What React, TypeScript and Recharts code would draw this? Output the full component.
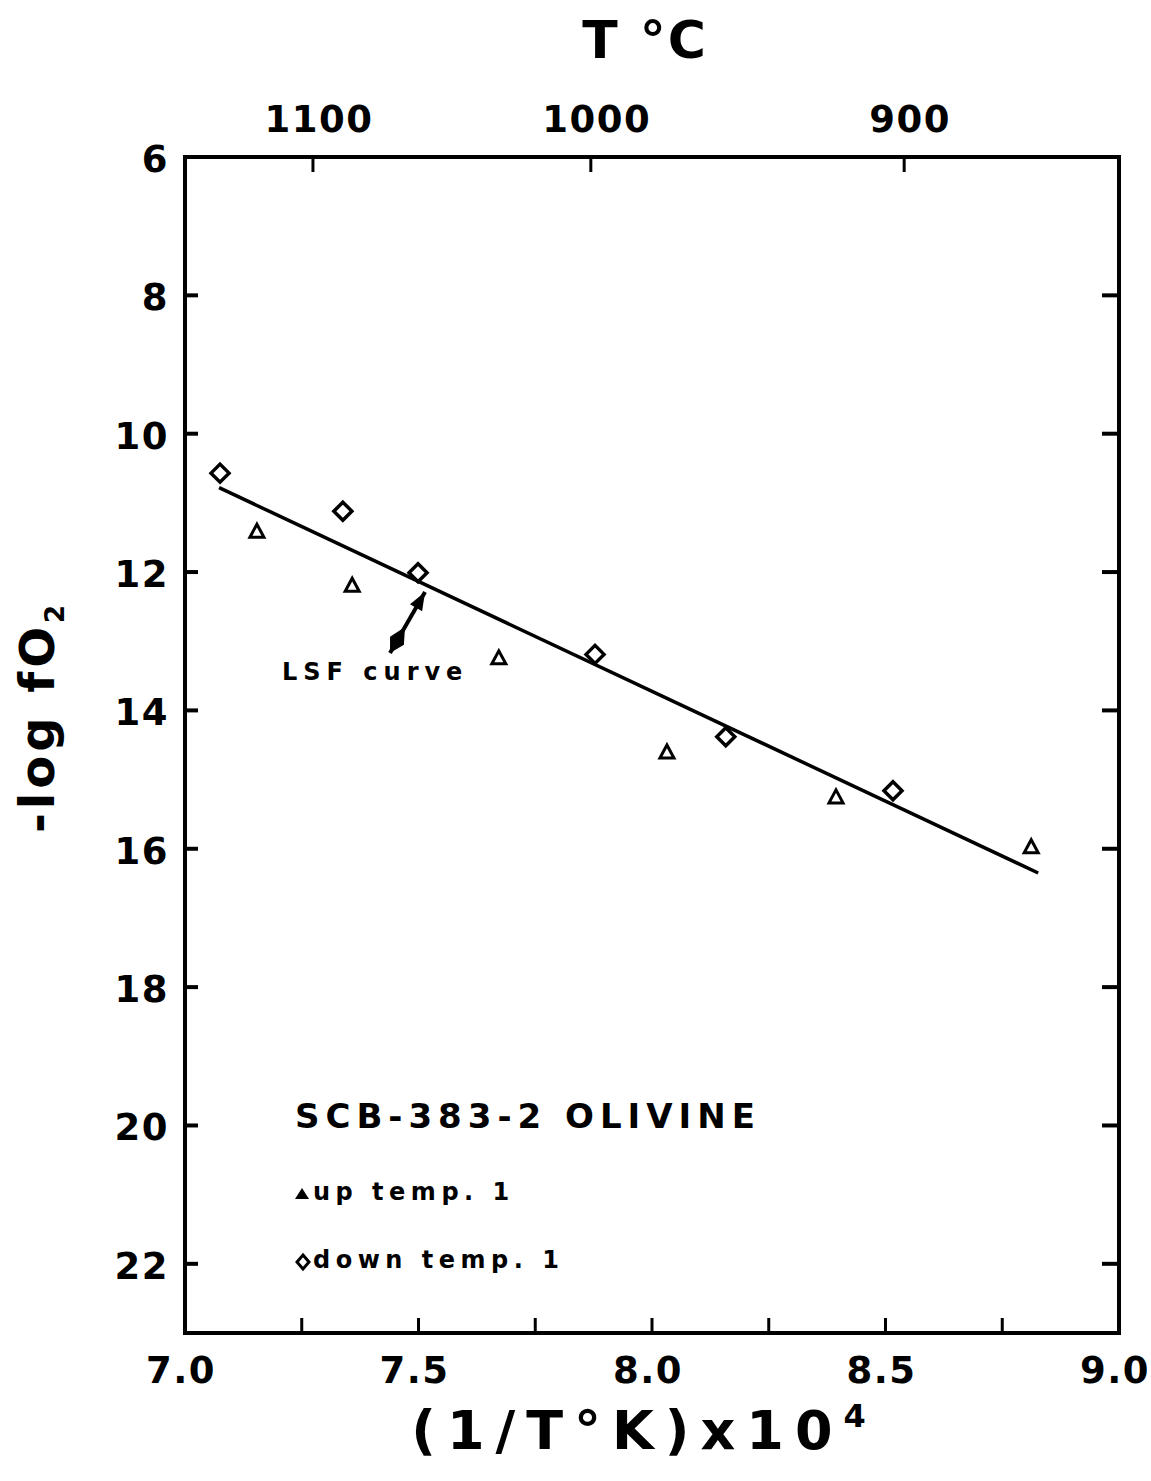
import { ScatterChart, Scatter, XAxis, YAxis, ReferenceLine, Legend } from "recharts";

const FONT = "'DejaVu Sans', sans-serif";

// up temp. 1 (triangles)
const upTempX = [7.154, 7.358, 7.672, 8.032, 8.394, 8.812];
const upTempY = [11.41, 12.19, 13.24, 14.6, 15.25, 15.97];
// down temp. 1 (diamonds)
const downTempX = [7.075, 7.338, 7.499, 7.878, 8.158, 8.516];
const downTempY = [10.57, 11.12, 12.01, 13.19, 14.38, 15.16];
// least squares fit line end points
const lsfX = [7.073, 8.827];
const lsfY = [10.78, 16.35];

const bottomTicks = [7.0, 7.25, 7.5, 7.75, 8.0, 8.25, 8.5, 8.75, 9.0];
const leftTicks = [6, 8, 10, 12, 14, 16, 18, 20, 22];
const rightTicks = [8, 10, 12, 14, 16, 18, 20, 22];
const topTickPos = [7.274, 7.869, 8.54];
const topTickLabels = ["1100", "1000", "900"];

const arrowTail = { x: 7.439, y: 13.17 };
const arrowHead = { x: 7.514, y: 12.29 };

const title = "SCB-383-2 OLIVINE";

const upData = upTempX.map((x, i) => ({ x, y: upTempY[i] }));
const downData = downTempX.map((x, i) => ({ x, y: downTempY[i] }));
const lsfData = lsfX.map((x, i) => ({ x, y: lsfY[i] }));

const tickText = {
  fontFamily: FONT,
  fontWeight: 700,
  fontSize: 37,
  letterSpacing: 1.5,
  fill: "#000",
};

const LeftTick = (p: any) => (
  <g>
    <line x1={p.x} y1={p.y} x2={p.x + 13} y2={p.y} stroke="#000" strokeWidth={4} />
    <text x={p.x - 16} y={p.y} dy={15} textAnchor="end" {...tickText}>
      {p.payload.value}
    </text>
  </g>
);

const RightTick = (p: any) => (
  <line x1={p.x} y1={p.y} x2={p.x - 17} y2={p.y} stroke="#000" strokeWidth={4} />
);

const BottomTick = (p: any) => {
  const v = p.payload.value;
  const labelled = Math.abs(v * 2 - Math.round(v * 2)) < 1e-6;
  return (
    <g>
      <line x1={p.x} y1={p.y} x2={p.x} y2={p.y - 15} stroke="#000" strokeWidth={3} />
      {labelled && (
        <text x={p.x - 4} y={p.y + 50} textAnchor="middle" {...tickText}>
          {v.toFixed(1)}
        </text>
      )}
    </g>
  );
};

const TopTick = (p: any) => (
  <g>
    <line x1={p.x} y1={p.y} x2={p.x} y2={p.y + 15} stroke="#000" strokeWidth={3} />
    <text x={p.x + 6} y={p.y - 25} textAnchor="middle" {...tickText}>
      {topTickLabels[p.index]}
    </text>
  </g>
);

const BottomTitle = ({ viewBox }: any) => (
  <text
    x={viewBox.x + viewBox.width / 2 - 8}
    y={viewBox.y + 116}
    textAnchor="middle"
    fontFamily={FONT}
    fontWeight={700}
    fontSize={54}
    letterSpacing={11}
    fill="#000"
  >
    (1/T°K)x10
    <tspan dy={-22} fontSize={32}>4</tspan>
  </text>
);

const TopTitle = ({ viewBox }: any) => (
  <text
    x={viewBox.x + viewBox.width / 2 - 7}
    y={viewBox.y - 39}
    textAnchor="middle"
    fontFamily={FONT}
    fontWeight={700}
    fontSize={52}
    letterSpacing={2}
    fill="#000"
  >
    T °C
  </text>
);

const LeftTitle = ({ viewBox }: any) => {
  const x = viewBox.x - 71;
  const y = viewBox.y + viewBox.height / 2 - 28;
  return (
    <text
      x={x}
      y={y}
      transform={`rotate(-90, ${x}, ${y})`}
      textAnchor="middle"
      fontFamily={FONT}
      fontWeight={700}
      fontSize={48}
      letterSpacing={4}
      fill="#000"
    >
      -log fO
      <tspan dy={10} fontSize={26}>2</tspan>
    </text>
  );
};

const Diamond = (p: any) => {
  const { cx, cy } = p;
  const r = 9;
  return (
    <polygon
      points={`${cx},${cy - r} ${cx + r},${cy} ${cx},${cy + r} ${cx - r},${cy}`}
      fill="#fff"
      stroke="#000"
      strokeWidth={3.5}
    />
  );
};

const Triangle = (p: any) => {
  const { cx, cy } = p;
  return (
    <polygon
      points={`${cx},${cy - 7} ${cx + 7},${cy + 6} ${cx - 7},${cy + 6}`}
      fill="#fff"
      stroke="#000"
      strokeWidth={3}
    />
  );
};

const NoDot = () => <g />;

const Arrow = (p: any) => {
  const { x1, y1, x2, y2 } = p;
  const dx = x2 - x1;
  const dy = y2 - y1;
  const len = Math.hypot(dx, dy);
  const ux = dx / len;
  const uy = dy / len;
  const nx = -uy;
  const ny = ux;
  const pt = (a: number, b: number) => `${a},${b}`;
  const head = [
    pt(x2, y2),
    pt(x2 - ux * 18 + nx * 7, y2 - uy * 18 + ny * 7),
    pt(x2 - ux * 18 - nx * 7, y2 - uy * 18 - ny * 7),
  ].join(" ");
  const tail = [
    pt(x1, y1),
    pt(x1 + ux * 14 + nx * 8, y1 + uy * 14 + ny * 8),
    pt(x1 + ux * 30, y1 + uy * 30),
    pt(x1 + ux * 14 - nx * 8, y1 + uy * 14 - ny * 8),
  ].join(" ");
  return (
    <g>
      <line x1={x1} y1={y1} x2={x2} y2={y2} stroke="#000" strokeWidth={4} />
      <polygon points={head} fill="#000" />
      <polygon points={tail} fill="#000" />
      <text
        x={x1 - 108}
        y={y1 + 27}
        fontFamily={FONT}
        fontWeight={700}
        fontSize={24}
        letterSpacing={6}
        fill="#000"
      >
        LSF curve
      </text>
    </g>
  );
};

const legendOrder = ["triangle", "diamond"];

const LegendBox = (props: any) => {
  const items = (props.payload || [])
    .filter((e: any) => legendOrder.includes(e.type))
    .sort((a: any, b: any) => legendOrder.indexOf(a.type) - legendOrder.indexOf(b.type));
  const rows = [105, 173];
  const text = { fontFamily: FONT, fontWeight: 700, fill: "#000" };
  return (
    <svg width={520} height={190} style={{ display: "block", overflow: "visible" }}>
      <text x={2} y={33} fontSize={34} letterSpacing={6} {...text}>
        {title}
      </text>
      {items.map((e: any, i: number) => {
        const y = rows[i];
        return (
          <g key={e.value}>
            {e.type === "triangle" ? (
              <polygon points={`9,${y - 12} 16,${y - 1} 2,${y - 1}`} fill="#000" />
            ) : (
              <polygon
                points={`10,${y - 13} 16,${y - 6} 10,${y + 1} 4,${y - 6}`}
                fill="#fff"
                stroke="#000"
                strokeWidth={3}
              />
            )}
            <text x={20} y={y} fontSize={24} letterSpacing={5.5} {...text}>
              {e.value}
            </text>
          </g>
        );
      })}
    </svg>
  );
};

export default function App() {
  const axisLine = { stroke: "#000", strokeWidth: 4, strokeLinecap: "square" as const };
  return (
    <div style={{ position: "absolute", left: 0, top: 0, width: 1151, height: 1481, background: "#fff" }}>
      <ScatterChart width={1151} height={1481} margin={{ top: 97, right: 12, bottom: 88, left: 125 }}>
        <XAxis
          xAxisId="bottom"
          dataKey="x"
          type="number"
          domain={[7, 9]}
          allowDataOverflow
          ticks={bottomTicks}
          interval={0}
          height={60}
          tickSize={0}
          tickMargin={0}
          tickLine={false}
          axisLine={axisLine}
          tick={<BottomTick />}
          label={<BottomTitle />}
        />
        <XAxis
          xAxisId="top"
          orientation="top"
          dataKey="x"
          type="number"
          domain={[7, 9]}
          allowDataOverflow
          ticks={topTickPos}
          interval={0}
          height={60}
          tickSize={0}
          tickMargin={0}
          tickLine={false}
          axisLine={axisLine}
          tick={<TopTick />}
          label={<TopTitle />}
        />
        <YAxis
          yAxisId="left"
          dataKey="y"
          type="number"
          domain={[6, 23]}
          allowDataOverflow
          reversed
          ticks={leftTicks}
          interval={0}
          width={60}
          tickSize={0}
          tickMargin={0}
          tickLine={false}
          axisLine={axisLine}
          tick={<LeftTick />}
          label={<LeftTitle />}
        />
        <YAxis
          yAxisId="right"
          orientation="right"
          dataKey="y"
          type="number"
          domain={[6, 23]}
          allowDataOverflow
          reversed
          ticks={rightTicks}
          interval={0}
          width={20}
          tickSize={0}
          tickMargin={0}
          tickLine={false}
          axisLine={axisLine}
          tick={<RightTick />}
        />
        <Scatter
          name="LSF"
          data={lsfData}
          xAxisId="bottom"
          yAxisId="left"
          line={{ stroke: "#000", strokeWidth: 3.5 }}
          shape={<NoDot />}
          legendType="none"
          isAnimationActive={false}
        />
        <Scatter
          name="up temp. 1"
          data={upData}
          xAxisId="bottom"
          yAxisId="left"
          shape={<Triangle />}
          legendType="triangle"
          isAnimationActive={false}
        />
        {/* same domains as bottom/left, so the top and right axes get ticks too */}
        <Scatter
          name="down temp. 1"
          data={downData}
          xAxisId="top"
          yAxisId="right"
          shape={<Diamond />}
          legendType="diamond"
          isAnimationActive={false}
        />
        <ReferenceLine
          xAxisId="bottom"
          yAxisId="left"
          segment={[arrowTail, arrowHead]}
          ifOverflow="visible"
          shape={(p: any) => <Arrow {...p} />}
        />
        <Legend
          layout="vertical"
          align="center"
          verticalAlign="middle"
          wrapperStyle={{ left: 293, top: 1095, width: 520 }}
          content={<LegendBox />}
        />
      </ScatterChart>
    </div>
  );
}
